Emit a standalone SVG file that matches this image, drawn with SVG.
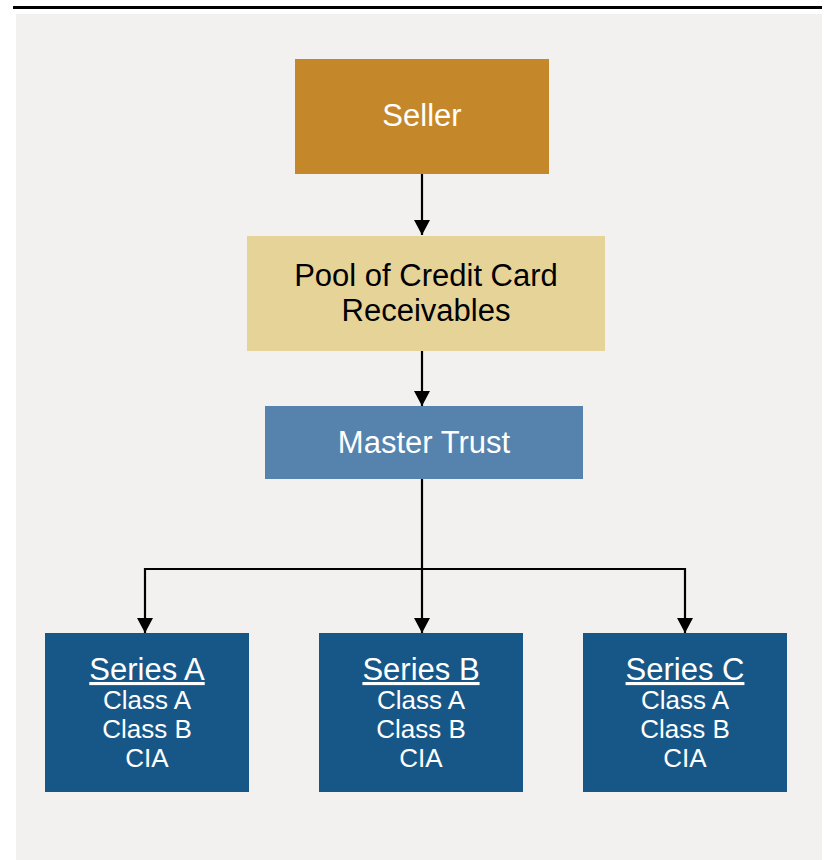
<svg xmlns="http://www.w3.org/2000/svg" width="824" height="860" viewBox="0 0 824 860">
<style>
text{font-family:"Liberation Sans",Arial,sans-serif;text-anchor:middle}
.w{fill:#ffffff}
.k{fill:#000000}
.big{font-size:31px}
.cls{font-size:26px}
.conn{stroke:#000;stroke-width:2.2;fill:none}
</style>
<defs>
<marker id="ah" markerUnits="userSpaceOnUse" markerWidth="16" markerHeight="16" viewBox="0 0 16 16" refX="15" refY="8" orient="auto-start-reverse">
<path d="M0,0 L15,8 L0,16 Z" fill="#000"/>
</marker>
</defs>
<rect x="16" y="14" width="806" height="846" fill="#F2F1EF"/>
<line x1="13" y1="7.5" x2="822" y2="7.5" stroke="#000" stroke-width="3"/>
<g id="connectors">
<path class="conn" d="M422,174 V235" marker-end="url(#ah)"/>
<path class="conn" d="M422,351 V406" marker-end="url(#ah)"/>
<path class="conn" d="M422,479 V633" marker-end="url(#ah)"/>
<path class="conn" d="M145,633 V569 H685 V633" marker-start="url(#ah)" marker-end="url(#ah)"/>
</g>
<g id="seller">
<rect x="295" y="59" width="254" height="115" fill="#C4882A"/>
<text class="w big" x="422" y="126">Seller</text>
</g>
<g id="pool">
<rect x="247" y="236" width="358" height="115" fill="#E6D398"/>
<text class="k big" x="426" y="286">Pool of Credit Card</text>
<text class="k big" x="426" y="321">Receivables</text>
</g>
<g id="master-trust">
<rect x="265" y="406" width="318" height="73" fill="#5583AD"/>
<text class="w big" x="424" y="453">Master Trust</text>
</g>
<g id="series-a">
<rect x="45" y="633" width="204" height="159" fill="#175788"/>
<text class="w big" x="147" y="680" text-decoration="underline">Series A</text>
<text class="w cls" x="147" y="709">Class A</text>
<text class="w cls" x="147" y="738">Class B</text>
<text class="w cls" x="147" y="767">CIA</text>
</g>
<g id="series-b">
<rect x="319" y="633" width="204" height="159" fill="#175788"/>
<text class="w big" x="421" y="680" text-decoration="underline">Series B</text>
<text class="w cls" x="421" y="709">Class A</text>
<text class="w cls" x="421" y="738">Class B</text>
<text class="w cls" x="421" y="767">CIA</text>
</g>
<g id="series-c">
<rect x="583" y="633" width="204" height="159" fill="#175788"/>
<text class="w big" x="685" y="680" text-decoration="underline">Series C</text>
<text class="w cls" x="685" y="709">Class A</text>
<text class="w cls" x="685" y="738">Class B</text>
<text class="w cls" x="685" y="767">CIA</text>
</g>
</svg>
